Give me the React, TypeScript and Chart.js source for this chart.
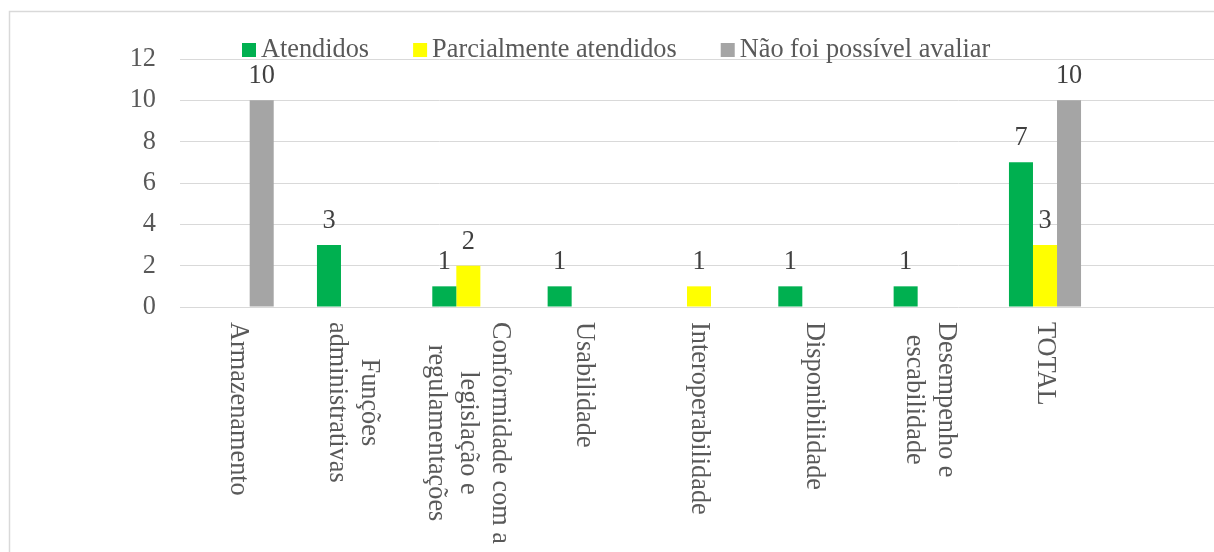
import React, { useEffect, useRef } from "react";
import { Chart, registerables } from "chart.js";

Chart.register(...registerables);

const categories: string[][] = [
  ["Armazenamento"],
  ["Funções", "administrativas"],
  ["Conformidade com a", "legislação e", "regulamentações"],
  ["Usabilidade"],
  ["Interoperabilidade"],
  ["Disponibilidade"],
  ["Desempenho e", "escabilidade"],
  ["TOTAL"],
  [""],
];

const seriesNames = ["Atendidos", "Parcialmente atendidos", "Não foi possível avaliar"];
const atendidos = [0, 3, 1, 1, 0, 1, 1, 7, null];
const parcialmente = [0, 0, 2, 0, 1, 0, 0, 3, null];
const naoAvaliado = [10, 0, 0, 0, 0, 0, 0, 10, null];
const yTicks = [0, 2, 4, 6, 8, 10, 12];

const COLORS = ["#00B050", "#FFFF00", "#A5A5A5"];
const FONT = "'Liberation Serif', 'Times New Roman', serif";
const FSIZE = 26.3;
const TEXT = "#595959";
const GRID = "#D9D9D9";

const framePlugin = {
  id: "frame",
  beforeDraw(chart: any) {
    const ctx = chart.ctx;
    ctx.save();
    ctx.fillStyle = "#ffffff";
    ctx.fillRect(0, 0, chart.width, chart.height);
    ctx.strokeStyle = GRID;
    ctx.lineWidth = 1.5;
    ctx.beginPath();
    ctx.moveTo(9.5, chart.height);
    ctx.lineTo(9.5, 11.5);
    ctx.lineTo(chart.width, 11.5);
    ctx.stroke();
    ctx.restore();
  },
};

const labelsPlugin = {
  id: "customLabels",
  afterDatasetsDraw(chart: any) {
    const ctx = chart.ctx;
    ctx.save();
    ctx.font = `${FSIZE}px ${FONT}`;
    // data labels
    ctx.fillStyle = "#404040";
    ctx.textAlign = "center";
    ctx.textBaseline = "alphabetic";
    chart.data.datasets.forEach((ds: any, di: number) => {
      const meta = chart.getDatasetMeta(di);
      meta.data.forEach((el: any, i: number) => {
        const v = ds.data[i];
        if (v == null || v === 0) return;
        ctx.fillText(String(v), el.x, el.y - 17);
      });
    });
    // category labels, rotated clockwise
    const xs = chart.scales.x;
    const top = chart.chartArea.bottom + 15;
    ctx.fillStyle = TEXT;
    categories.forEach((lines, i) => {
      const cx = xs.getPixelForValue(i);
      const n = lines.length;
      let maxW = 0;
      lines.forEach((l) => {
        maxW = Math.max(maxW, ctx.measureText(l).width);
      });
      lines.forEach((l, j) => {
        const lx = cx + ((n - 1) / 2 - j) * 32;
        const ly = top + maxW / 2;
        ctx.save();
        ctx.translate(lx, ly);
        ctx.rotate(Math.PI / 2);
        ctx.textAlign = "center";
        ctx.textBaseline = "middle";
        ctx.fillText(l, 0, 0);
        ctx.restore();
      });
    });
    // legend
    let x = 242;
    ctx.textAlign = "left";
    ctx.textBaseline = "alphabetic";
    chart.data.datasets.forEach((ds: any) => {
      ctx.fillStyle = ds.backgroundColor;
      ctx.fillRect(x, 43, 14, 14);
      ctx.fillStyle = TEXT;
      const tx = x + 19;
      ctx.fillText(ds.label, tx, 57);
      x = tx + ctx.measureText(ds.label).width + 44;
    });
    ctx.restore();
  },
};

export default function App() {
  const ref = useRef<HTMLCanvasElement | null>(null);

  useEffect(() => {
    if (!ref.current) return;
    const chart = new Chart(ref.current, {
      type: "bar",
      data: {
        labels: categories.map((c) => c.join(" ")),
        datasets: [
          { label: seriesNames[0], data: atendidos, backgroundColor: COLORS[0] },
          { label: seriesNames[1], data: parcialmente, backgroundColor: COLORS[1] },
          { label: seriesNames[2], data: naoAvaliado, backgroundColor: COLORS[2] },
        ] as any,
      },
      options: {
        responsive: false,
        animation: false,
        devicePixelRatio: 1,
        layout: { padding: { top: 59, bottom: 237, left: 0, right: 2 } },
        datasets: { bar: { categoryPercentage: 0.625, barPercentage: 1.0 } } as any,
        plugins: {
          legend: { display: false },
          tooltip: { enabled: false },
        },
        scales: {
          x: {
            grid: { display: false },
            border: { display: false },
            ticks: { display: false },
          },
          y: {
            min: 0,
            max: 12,
            afterBuildTicks: (s: any) => {
              s.ticks = yTicks.map((v) => ({ value: v }));
            },
            afterFit: (s: any) => {
              s.width = 180;
            },
            ticks: {
              padding: 24,
              color: TEXT,
              font: { family: FONT, size: FSIZE },
            },
            grid: { color: GRID, lineWidth: 1, drawTicks: false },
            border: { display: false },
          },
        },
      } as any,
      plugins: [framePlugin, labelsPlugin],
    });
    return () => chart.destroy();
  }, []);

  return (
    <div
      style={{
        position: "fixed",
        left: 0,
        top: 0,
        width: 1214,
        height: 552,
        overflow: "hidden",
        background: "#fff",
      }}
    >
      <canvas ref={ref} width={1220} height={552} style={{ display: "block" }} />
    </div>
  );
}
